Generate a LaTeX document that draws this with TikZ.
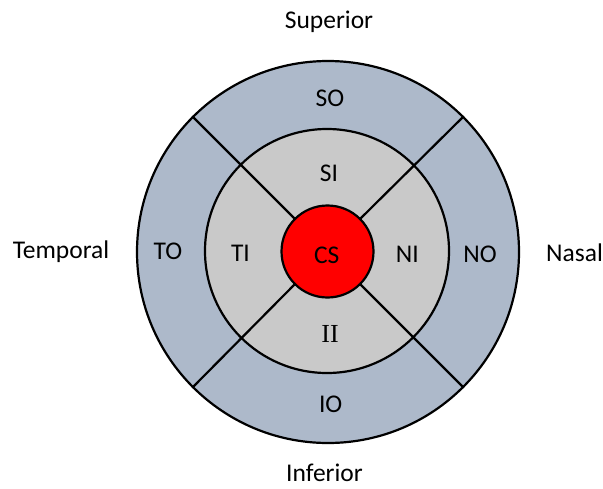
\documentclass[tikz,border=0pt]{standalone}
\usepackage{fontspec}
\setmainfont{Carlito}
\newfontfamily\serifff{Liberation Serif}
\definecolor{outerblue}{HTML}{ADB9CA}
\definecolor{midgrey}{HTML}{C9C9C9}
\definecolor{centerred}{HTML}{FF0000}
\tikzset{
  ring/.style={circle, draw=black, line width=2.2pt, inner sep=0pt},
  divider/.style={draw=black, line width=2.2pt},
  lbl/.style={anchor=base, inner sep=0pt, font=\fontsize{25.5}{30}\selectfont},
}
\begin{document}
\begin{tikzpicture}[x=1pt,y=-1pt]
\useasboundingbox (0,0) rectangle (603,488);
% rings
\node[ring, fill=outerblue, minimum size=382pt] (outer) at (328,252) {};
\node[ring, fill=midgrey, minimum size=244pt] (middle) at (327,251) {};
% dividers
\node[circle, inner sep=0pt, minimum size=92pt] (innerref) at (327.5,251.5) {};
\draw[divider] (innerref.45) -- (outer.45);
\draw[divider] (innerref.135) -- (outer.135);
\draw[divider] (innerref.225) -- (outer.225);
\draw[divider] (innerref.315) -- (outer.315);
% centre
\node[ring, fill=centerred, minimum size=92pt] (inner) at (327.5,251.5) {};
% sector labels
\node[lbl] (so) at (330,106) {SO};
\node[lbl] (si) at (329,181.5) {SI};
\node[lbl] (to) at (168,259) {TO};
\node[lbl] (ti) at (240.5,261.5) {TI};
\node[lbl] (cs) at (326.7,263) {CS};
\node[lbl] (ni) at (407.3,262) {NI};
\node[lbl] (no) at (480,262) {NO};
\node[lbl, font=\fontsize{26}{30}\serifff] (ii) at (330,342.5) {II};
\node[lbl] (io) at (330.7,412.3) {IO};
% direction labels
\node[lbl] (sup) at (329,28.3) {Superior};
\node[lbl] (tem) at (61,258.3) {Temporal};
\node[lbl] (nas) at (574.5,261.7) {Nasal};
\node[lbl] (inf) at (324.5,481) {Inferior};
\end{tikzpicture}
\end{document}
